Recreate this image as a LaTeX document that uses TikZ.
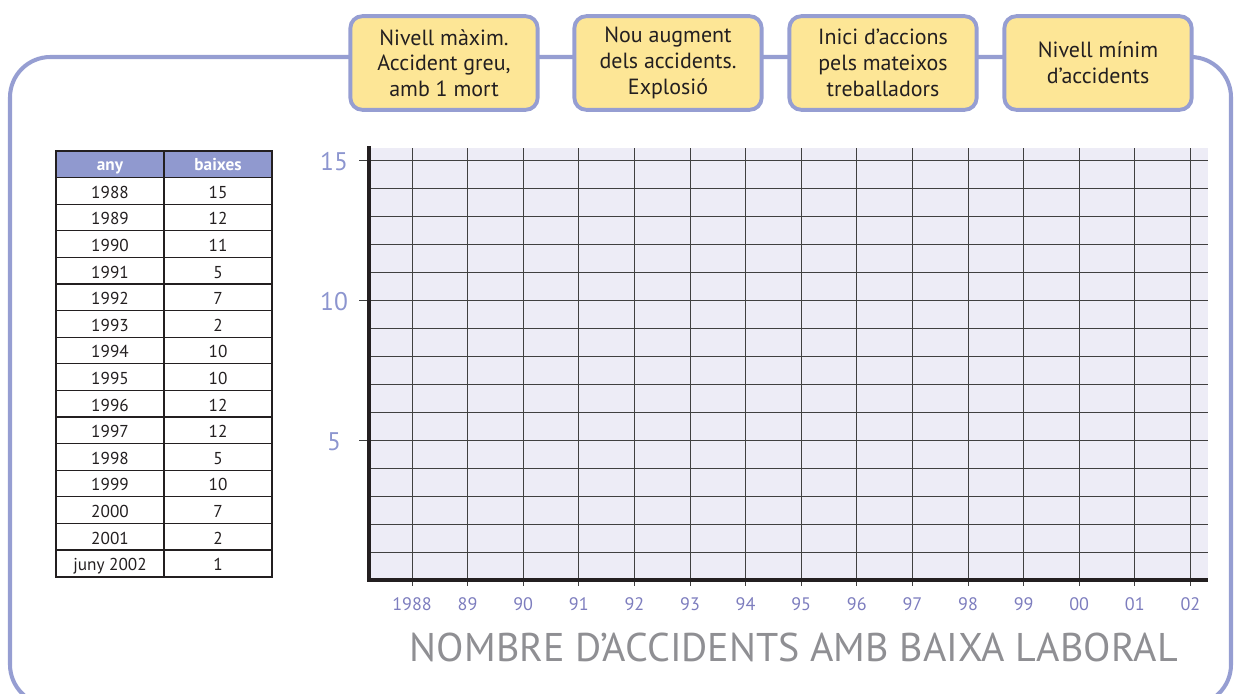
\documentclass[tikz,border=0pt]{standalone}
\usepackage{fontspec}
\setmainfont{PT Sans}
\definecolor{lila}{RGB}{150,158,210}
\definecolor{groc}{RGB}{253,230,150}
\definecolor{capcal}{RGB}{144,153,207}
\definecolor{fons}{RGB}{237,236,246}
\definecolor{numy}{RGB}{140,149,207}
\definecolor{numx}{RGB}{125,125,190}
\definecolor{gristitol}{RGB}{143,143,147}
\definecolor{tinta}{RGB}{35,31,32}

\begin{document}
\begin{tikzpicture}[x=0.02cm,y=-0.02cm,
    caixa/.style={draw=lila,fill=groc,line width=2.2pt,rounded corners=6.8pt,
        minimum width=106.6pt,minimum height=53.3pt,align=center,text=tinta,
        font=\fontsize{12.5}{14.6}\selectfont},
    cela/.style={anchor=base,text=tinta,font=\fontsize{9.8}{11}\selectfont},
    graella/.style={black!75,line width=0.55pt}]
    \useasboundingbox (0,0) rectangle (1237,693);
    \clip (0,0) rectangle (1237,693);
    \draw[lila,line width=2.3pt,rounded corners=23pt] (10,57) rectangle (1231,705);
    \node (estat1) at (444,63) [caixa] {Nivell màxim.\\Accident greu,\\amb 1 mort};
    \node (estat2) at (668,63) [caixa] {Nou augment\\dels accidents.\\Explosió};
    \node (estat3) at (883,63) [caixa] {Inici d’accions\\pels mateixos\\treballadors};
    \node (estat4) at (1098,63) [caixa] {Nivell mínim\\d’accidents};
    \fill[capcal] (56,151) rectangle (272,177.6);
    \node (capany) at (110,170) [cela,text=white,font=\fontsize{9.8}{11}\selectfont\bfseries] {any};
    \node (capbaixes) at (218,170) [cela,text=white,font=\fontsize{9.8}{11}\selectfont\bfseries] {baixes};
    \foreach \any/\baixes [count=\i] in {1988/15,1989/12,1990/11,1991/5,1992/7,1993/2,1994/10,1995/10,
        1996/12,1997/12,1998/5,1999/10,2000/7,2001/2,juny 2002/1} {
        \draw[tinta,line width=0.7pt] (56,{151+26.6*\i}) -- (272,{151+26.6*\i});
        \node (any\i) at (110,{171.6+26.6*\i}) [cela] {\any};
        \node (baixes\i) at (218,{171.6+26.6*\i}) [cela] {\baixes};
    }
    \draw[tinta,line width=0.7pt] (164,151) -- (164,576.6);
    \draw[tinta,line width=1.2pt] (56,151) rectangle (272,576.6);
    \fill[fons] (369,148) rectangle (1208,580);
    \foreach \v in {1,...,15}
        \draw[graella] (369,{580-28*\v}) -- (1208,{580-28*\v});
    \foreach \j in {0,...,14}
        \draw[graella] ({412+55.6*\j},148) -- ({412+55.6*\j},586);
    \foreach \v in {5,10,15} {
        \draw[graella] (359,{580-28*\v}) -- (369,{580-28*\v});
        \node (y\v) at (334,{590.7-28*\v}) [anchor=base,numy,font=\fontsize{14.5}{16}\selectfont] {\v};
    }
    \draw[tinta,line width=2pt] (369,146) -- (369,580) -- (1208,580);
    \foreach \lab [count=\j from 0] in {1988,89,90,91,92,93,94,95,96,97,98,99,00,01,02}
        \node (x\j) at ({412+55.6*\j},610.5) [anchor=base,numx,font=\fontsize{10.3}{12}\selectfont] {\lab};
    \node (titol) at (794,661.5) [anchor=base,gristitol,font=\fontsize{22.8}{26}\selectfont] {NOMBRE D’ACCIDENTS AMB BAIXA LABORAL};
\end{tikzpicture}
\end{document}
